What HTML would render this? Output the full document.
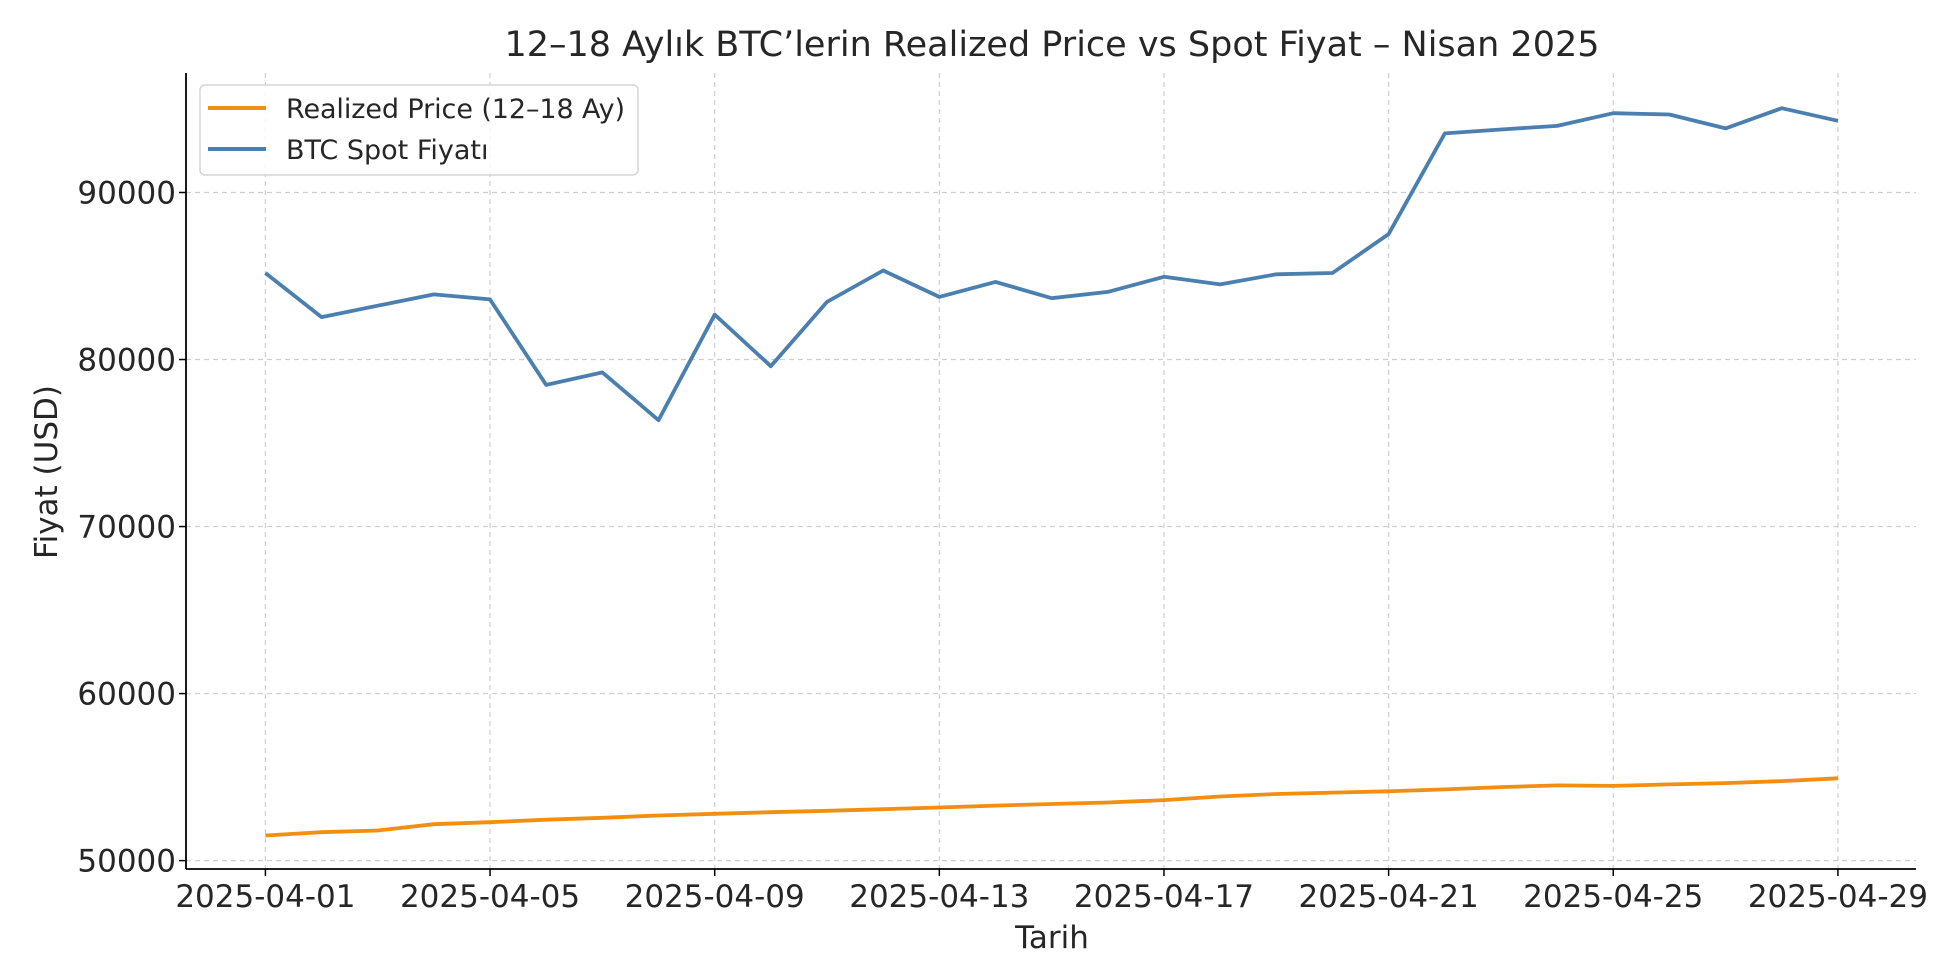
<!DOCTYPE html>
<html><head><meta charset="utf-8"><style>
html,body{margin:0;padding:0;background:#fff;}
svg{display:block;font-family:"DejaVu Sans","Liberation Sans",sans-serif;}
</style></head><body>
<svg id="chart" width="1950" height="975" viewBox="0 0 1950 975" xmlns="http://www.w3.org/2000/svg">
<rect width="1950" height="975" fill="#fff"/>
<text x="1052" y="56" text-anchor="middle" font-size="35" fill="#262626">12–18 Aylık BTC’lerin Realized Price vs Spot Fiyat – Nisan 2025</text>
<g id="grid"></g>
<g id="series"></g>
<line x1="186" y1="73" x2="186" y2="869" stroke="#000" stroke-width="1.8"/>
<line x1="186" y1="869" x2="1916" y2="869" stroke="#000" stroke-width="1.8"/>
<g id="ticks"></g>
<text x="1052" y="948" text-anchor="middle" font-size="31" fill="#262626">Tarih</text>
<text transform="translate(57,472) rotate(-90)" text-anchor="middle" font-size="31" fill="#262626">Fiyat (USD)</text>
<g>
<rect x="200" y="85" width="438" height="90" rx="5" fill="#fff" fill-opacity="0.85" stroke="#d5d5d5" stroke-width="1.5"/>
<line x1="208" y1="108" x2="266" y2="108" stroke="#f28e10" stroke-width="4"/>
<text x="286" y="118" font-size="27" fill="#262626" textLength="339">Realized Price (12–18 Ay)</text>
<line x1="208" y1="149" x2="266" y2="149" stroke="#4a7fb0" stroke-width="4"/>
<text x="286" y="159" font-size="27" fill="#262626">BTC Spot Fiyatı</text>
</g>
</svg>
<script>
const days = [1,2,3,4,5,6,7,8,9,10,11,12,13,14,15,16,17,18,19,20,21,22,23,24,25,26,27,28,29];
const spotValues = [85180,82540,83220,83900,83600,78480,79230,76370,82690,79600,83450,85330,83750,84650,83670,84050,84950,84500,85100,85180,87510,93540,93770,93990,94750,94670,93840,95050,94290];
const realizedValues = [51500,51700,51800,52180,52300,52450,52560,52700,52800,52900,52980,53080,53180,53290,53390,53480,53620,53840,53990,54070,54150,54260,54400,54500,54470,54560,54640,54760,54930];
const yTicks = [50000,60000,70000,80000,90000];
const xTickDays = [1,5,9,13,17,21,25,29];
const xTickLabels = ["2025-04-01","2025-04-05","2025-04-09","2025-04-13","2025-04-17","2025-04-21","2025-04-25","2025-04-29"];
const NS="http://www.w3.org/2000/svg";
const X0=186,X1=1916,Y0=73,Y1=869;
const xs=d=>265.4+(d-1)*(1837.9-265.4)/28;
const ys=v=>860.6-(v-50000)*(860.6-192.5)/40000;
function mk(t,a,p){const e=document.createElementNS(NS,t);for(const k in a)e.setAttribute(k,a[k]);p.appendChild(e);return e;}
const grid=document.getElementById('grid'),ticks=document.getElementById('ticks'),series=document.getElementById('series');
yTicks.forEach(v=>{const y=ys(v);
 const g=mk('line',{x1:X0,x2:X1,y1:y,y2:y,stroke:'#cfcfcf','stroke-width':1.2,'stroke-dasharray':'5,4'},grid);
 
 
 const t=mk('line',{x1:X0-7,x2:X0,y1:y,y2:y,stroke:'#000','stroke-width':1.5},ticks);
 
 
 const l=mk('text',{x:X0-10,y:y+11,'text-anchor':'end','font-size':31,fill:'#262626'},ticks);l.textContent=v;
 
 
});
xTickDays.forEach((d,i)=>{const x=xs(d);
 const g=mk('line',{x1:x,x2:x,y1:Y0,y2:Y1,stroke:'#cfcfcf','stroke-width':1.2,'stroke-dasharray':'5,4'},grid);
 
 
 const t=mk('line',{x1:x,x2:x,y1:Y1,y2:Y1+7,stroke:'#000','stroke-width':1.5},ticks);
 
 
 const l=mk('text',{x:x,y:907,'text-anchor':'middle','font-size':31,fill:'#262626'},ticks);l.textContent=xTickLabels[i];
 
 
});
function line(vals,color,name){
 const pts=vals.map((v,i)=>xs(days[i]).toFixed(1)+','+ys(v).toFixed(1)).join(' ');
 const p=mk('polyline',{points:pts,fill:'none',stroke:color,'stroke-width':3.8,'stroke-linejoin':'round'},series);
 
 
}
line(realizedValues,'#f28e10','realized-price-line');
line(spotValues,'#4a7fb0','btc-spot-line');
</script>
</body></html>
